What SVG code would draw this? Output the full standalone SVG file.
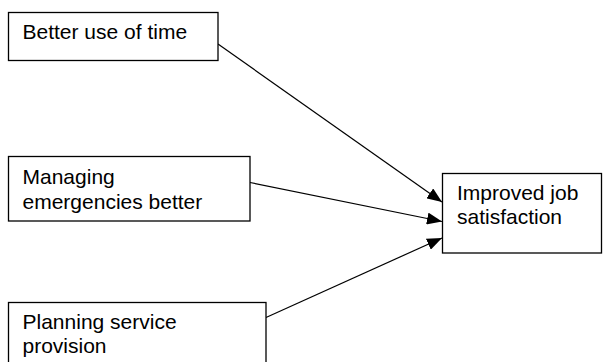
<svg xmlns="http://www.w3.org/2000/svg" width="603" height="362" viewBox="0 0 603 362">
<style>
.box{fill:#fff;stroke:#000;stroke-width:1.3}
.t{font-family:"Liberation Sans",Arial,sans-serif;font-size:21px;fill:#000}
.c{stroke:#000;stroke-width:1.2;fill:none}
</style>
<defs>
<marker id="ah" markerUnits="userSpaceOnUse" markerWidth="16" markerHeight="12" refX="15" refY="6" orient="auto">
<path d="M0,0 L15,6 L0,12 Z" fill="#000"/>
</marker>
</defs>
<rect width="603" height="362" fill="#fff"/>
<g id="connectors">
<line class="c" x1="218" y1="44" x2="442" y2="202" marker-end="url(#ah)"/>
<line class="c" x1="250" y1="182.5" x2="442" y2="221.5" marker-end="url(#ah)"/>
<line class="c" x1="266" y1="317.5" x2="442" y2="238" marker-end="url(#ah)"/>
</g>
<g id="n1">
<rect class="box" x="8.5" y="12.5" width="209.5" height="48"/>
<text class="t" x="22.5" y="39">Better use of time</text>
</g>
<g id="n2">
<rect class="box" x="8.5" y="156.5" width="241.5" height="64.5"/>
<text class="t" x="22.5" y="183.5">Managing</text>
<text class="t" x="22.5" y="208.5">emergencies better</text>
</g>
<g id="n3">
<rect class="box" x="8.5" y="302.5" width="257.5" height="70"/>
<text class="t" x="22.5" y="328.5">Planning service</text>
<text class="t" x="22.5" y="353">provision</text>
</g>
<g id="n4">
<rect class="box" x="442.5" y="173.5" width="159" height="79.5"/>
<text class="t" x="457" y="199.5">Improved job</text>
<text class="t" x="457" y="224">satisfaction</text>
</g>
</svg>
